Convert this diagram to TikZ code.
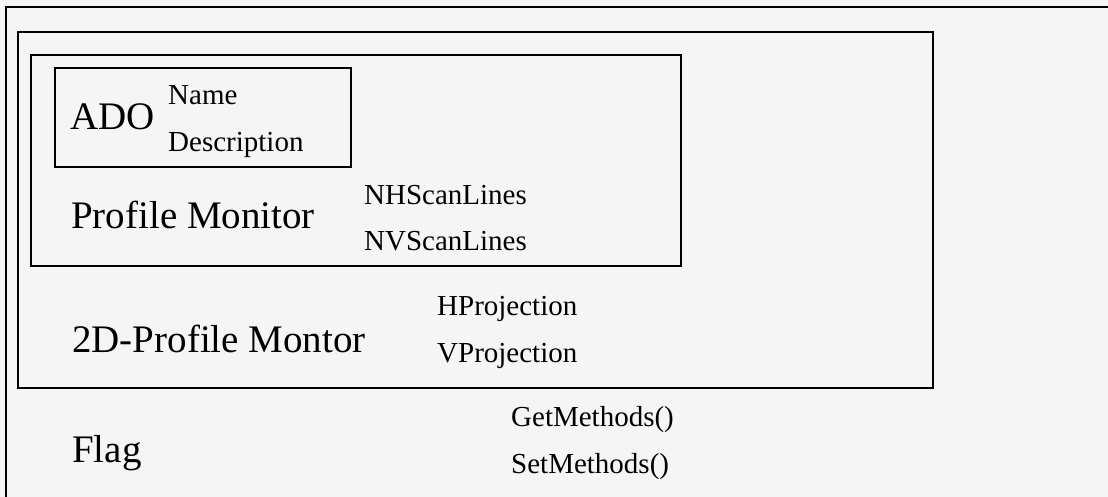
\documentclass[tikz,border=0pt]{standalone}
\usepackage{fontspec}
\setmainfont{Liberation Serif}
\begin{document}
\begin{tikzpicture}[x=1pt,y=-1pt,
  frame/.style={draw=black,line width=2.4pt},
  big/.style={anchor=base west,inner sep=0pt,font=\fontsize{39}{39}\selectfont},
  small/.style={anchor=base west,inner sep=0pt,font=\fontsize{29}{29}\selectfont}]
\fill[white!96!black] (0,0) rectangle (1108,497);
\useasboundingbox (0,0) rectangle (1108,497);
% outer (cut off at right and bottom)
\draw[frame] (1110,7) -- (6,7) -- (6,499);
% 2D-Profile Monitor box
\draw[frame] (18,32) rectangle (933,388);
% Profile Monitor box
\draw[frame] (31,55) rectangle (681,266);
% ADO box
\draw[frame] (55,68) rectangle (351,167);
% texts
\node[big] (ado) at (70,130) {ADO};
\node[small] (name) at (168,105) {Name};
\node[small] (desc) at (168,152) {Description};
\node[big] (pm) at (71,229) {Profile Monitor};
\node[small] (nh) at (364,205) {NHScanLines};
\node[small] (nv) at (364,251) {NVScanLines};
\node[big] (pm2) at (72,352) {2D-Profile Montor};
\node[small] (hp) at (437,315) {HProjection};
\node[small] (vp) at (437,362) {VProjection};
\node[big] (flag) at (72,462) {Flag};
\node[small] (get) at (511,426) {GetMethods()};
\node[small] (set) at (511,473) {SetMethods()};
\end{tikzpicture}
\end{document}
